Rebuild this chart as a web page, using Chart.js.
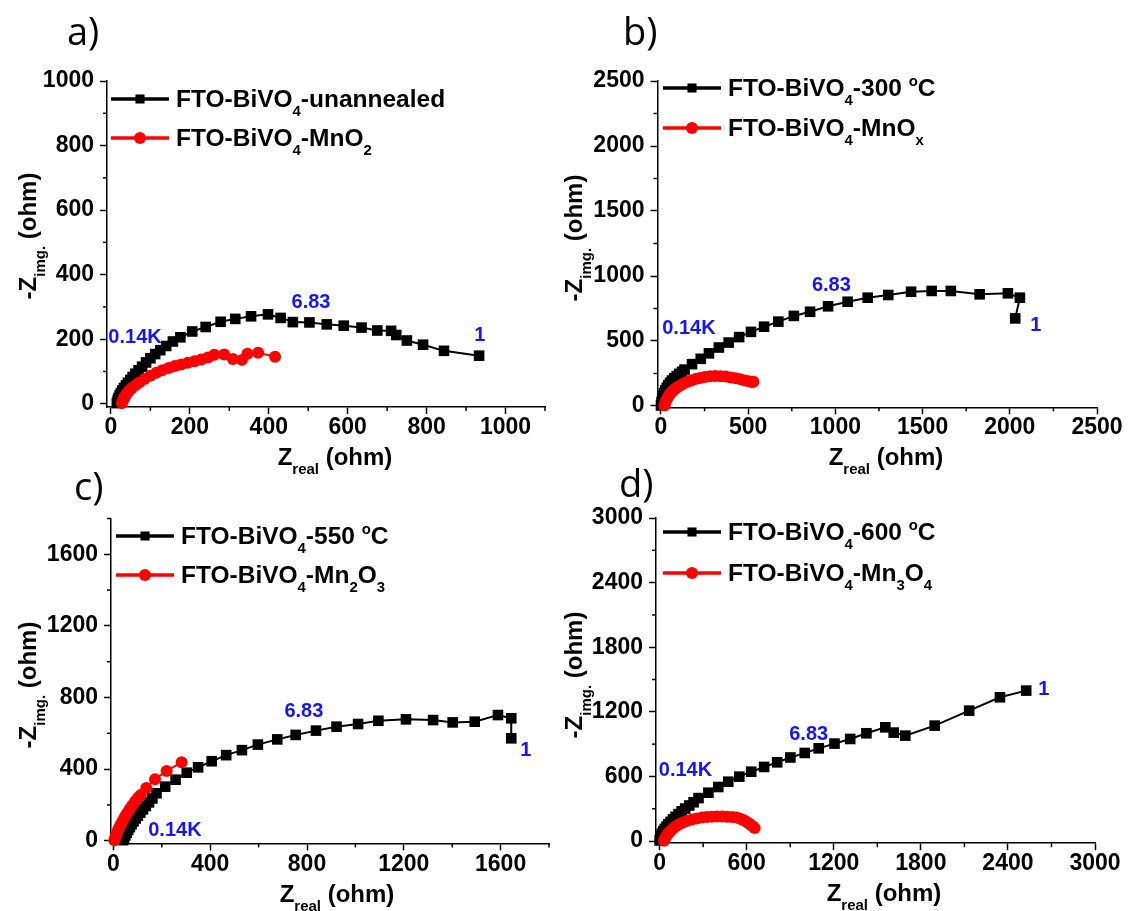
<!DOCTYPE html>
<html>
<head>
<meta charset="utf-8">
<title>EIS Nyquist plots</title>
<script src="https://cdn.jsdelivr.net/npm/chart.js@4.4.1/dist/chart.umd.min.js"></script>
<style>
  html, body { margin: 0; padding: 0; background: #fff; }
  #wrap { position: relative; width: 1129px; height: 911px; }
  #wrap canvas { position: absolute; left: 0; top: 0; }
</style>
</head>
<body>
<div id="wrap">
  <canvas id="chartA" width="1129" height="911"></canvas>
  <canvas id="chartB" width="1129" height="911"></canvas>
  <canvas id="chartC" width="1129" height="911"></canvas>
  <canvas id="chartD" width="1129" height="911"></canvas>
</div>
<script>
// Z_real / -Z_img pairs (ohm), high frequency first

// a) unannealed vs MnO2
const unannealedPts = [[15,2],[17,10],[19,18],[22,26],[25,33],[29,41],[33,49],[38,57],[43,65],[49,74],[55,83],[62,93],[70,104],[79,115],[89,128],[100,141],[112,154],[125,166],[140,179],[157,193],[176,206],[206,224],[240,238],[278,254],[315,263],[355,271],[398,277],[430,266],[461,253],[503,252],[547,246],[590,242],[635,236],[675,227],[710,226],[723,213],[750,196],[791,183],[844,164],[933,149]];
const mno2Pts = [[28,2],[30,9],[33,16],[36,23],[41,32],[46,40],[53,49],[62,57],[72,66],[85,77],[100,87],[115,96],[130,104],[146,111],[162,117],[178,122],[195,127],[212,132],[229,137],[246,143],[262,152],[287,153],[309,139],[332,136],[346,155],[373,158],[416,146]];

// b) 300 C vs MnOx
const t300Pts = [[0,4],[3,30],[7,55],[12,78],[18,100],[25,120],[33,140],[42,160],[52,178],[63,196],[76,214],[90,230],[105,247],[121,263],[135,280],[178,322],[228,363],[275,405],[332,450],[388,488],[448,530],[516,570],[591,610],[673,649],[762,693],[855,725],[958,767],[1070,802],[1185,833],[1303,854],[1434,879],[1552,885],[1662,885],[1827,859],[1989,867],[2058,833],[2031,674]];
const mnoxPts = [[20,3],[24,20],[29,38],[35,55],[42,72],[50,89],[60,105],[71,120],[84,135],[98,148],[114,161],[132,174],[152,186],[174,197],[198,207],[224,216],[252,223],[282,228],[312,230],[342,229],[372,226],[400,220],[428,213],[455,205],[480,197],[502,190],[520,184],[530,186]];

// c) 550 C vs Mn2O3
const t550Pts = [[40,3],[44,16],[49,30],[55,45],[61,60],[68,76],[75,92],[83,108],[92,124],[101,140],[111,157],[122,175],[134,194],[147,214],[161,236],[178,265],[214,302],[257,341],[303,380],[350,410],[406,444],[466,478],[531,506],[597,537],[677,566],[753,591],[837,615],[922,637],[1011,652],[1095,670],[1209,678],[1321,674],[1402,661],[1493,665],[1589,702],[1644,684],[1644,572]];
const mn2o3Pts = [[4,3],[7,15],[11,30],[15,45],[20,62],[26,80],[33,98],[40,116],[48,135],[57,155],[67,176],[78,198],[90,220],[102,240],[113,256],[136,295],[172,343],[220,390],[282,438]];

// d) 600 C vs Mn3O4
const t600Pts = [[0,5],[4,25],[9,45],[16,68],[25,90],[35,112],[47,134],[60,156],[75,178],[92,201],[110,225],[130,250],[152,276],[176,302],[204,330],[234,360],[268,399],[336,449],[404,502],[473,551],[549,598],[631,644],[720,688],[810,731],[901,776],[1000,818],[1096,861],[1205,905],[1313,948],[1425,1001],[1555,1056],[1613,1007],[1693,979],[1895,1072],[2133,1211],[2345,1335],[2526,1397]];
const mn3o4Pts = [[30,3],[36,20],[44,40],[54,60],[66,80],[80,100],[96,120],[115,140],[138,158],[163,174],[192,188],[222,200],[255,210],[290,218],[325,223],[360,226],[395,227],[430,227],[465,226],[500,223],[530,218],[555,208],[578,195],[598,180],[615,163],[630,148],[645,133],[655,120]];

// tick labels
const ticksA = [0, 200, 400, 600, 800, 1000];
const ticksB = [0, 500, 1000, 1500, 2000, 2500];
const ticksC = [0, 400, 800, 1200, 1600];
const ticksD = [0, 600, 1200, 1800, 2400, 3000];

// frequency markers written next to the curves
const freqLabels = ['0.14K', '6.83', '1'];

const W = 1129, H = 911;
const FONT = "'Liberation Sans', Arial, sans-serif";

const panels = [
  { id: 'chartA', letter: 'a)', letterAt: [67, 45],
    area: { left: 107, right: 545, top: 81, bottom: 407 },
    x: { min: -10, max: 1100, ticks: ticksA }, y: { min: -10, max: 1000, ticks: ticksA },
    names: ['FTO-BiVO_4-unannealed', 'FTO-BiVO_4-MnO_2'], series: [unannealedPts, mno2Pts],
    legend: { x: 111, rows: [99, 138] },
    yTitle: [36, 236], xTitle: [335, 465],
    freqAt: [[61, 210], [507, 319], [935, 217]] },
  { id: 'chartB', letter: 'b)', letterAt: [623, 45],
    area: { left: 657.5, right: 1097, top: 81, bottom: 407.3 },
    x: { min: -20, max: 2500, ticks: ticksB }, y: { min: -10, max: 2500, ticks: ticksB },
    names: ['FTO-BiVO_4-300 ^oC', 'FTO-BiVO_4-MnO_x'], series: [t300Pts, mnoxPts],
    legend: { x: 663, rows: [88, 128] },
    yTitle: [582, 238], xTitle: [886, 465],
    freqAt: [[160, 608], [977, 938], [2149, 631]] },
  { id: 'chartC', letter: 'c)', letterAt: [74, 500],
    area: { left: 111, right: 549, top: 518.5, bottom: 843.4 },
    x: { min: -10, max: 1800, ticks: ticksC }, y: { min: -15, max: 1800, ticks: ticksC },
    names: ['FTO-BiVO_4-550 ^oC', 'FTO-BiVO_4-Mn_2O_3'], series: [t550Pts, mn2o3Pts],
    legend: { x: 116, rows: [536, 575] },
    yTitle: [36, 685], xTitle: [337, 902],
    freqAt: [[254, 65], [787, 730], [1704, 515]] },
  { id: 'chartD', letter: 'd)', letterAt: [619, 497],
    area: { left: 656, right: 1095, top: 518, bottom: 843.2 },
    x: { min: -25, max: 3000, ticks: ticksD }, y: { min: -20, max: 3000, ticks: ticksD },
    names: ['FTO-BiVO_4-600 ^oC', 'FTO-BiVO_4-Mn_3O_4'], series: [t600Pts, mn3o4Pts],
    legend: { x: 663, rows: [532, 573] },
    yTitle: [582, 675], xTitle: [884, 901],
    freqAt: [[178, 669], [1027, 1008], [2648, 1417]] }
];

const seriesStyle = [
  { color: '#000000', pointStyle: 'rect', radius: 7.5, legendRadius: 6.4 },
  { color: '#ff0000', pointStyle: 'circle', radius: 6, legendRadius: 6 }
];

// "_x" or "_{..}" = subscript, "^x" = superscript
function parseRich(str) {
  const parts = [];
  const re = /([_^])\{([^}]*)\}|([_^])(.)|([^_^]+)/g;
  let m;
  while ((m = re.exec(str))) {
    if (m[1]) parts.push({ t: m[2], k: m[1] });
    else if (m[3]) parts.push({ t: m[4], k: m[3] });
    else parts.push({ t: m[5], k: '' });
  }
  return parts;
}

function drawRich(ctx, str, x, y, fs, align, sx) {
  const parts = parseRich(str);
  const fontFor = k => 'bold ' + (k ? Math.round(fs * 0.63) : fs) + 'px ' + FONT;
  let w = 0;
  parts.forEach(p => { ctx.font = fontFor(p.k); p.w = ctx.measureText(p.t).width; w += p.w; });
  ctx.save();
  ctx.translate(x, y);
  ctx.scale(sx || 1, 1);
  ctx.textAlign = 'left';
  ctx.textBaseline = 'alphabetic';
  let cx = align === 'center' ? -w / 2 : 0;
  parts.forEach(p => {
    ctx.font = fontFor(p.k);
    const dy = p.k === '_' ? fs * 0.37 : (p.k === '^' ? -fs * 0.45 : 0);
    ctx.fillText(p.t, cx, dy);
    cx += p.w;
  });
  ctx.restore();
}

function minorValues(ax) {
  const step = (ax.ticks[1] - ax.ticks[0]) / 2;
  const out = [];
  for (let v = ax.ticks[0] + step; v <= ax.max + 1e-9; v += 2 * step) out.push(v);
  return out;
}

function drawMarker(ctx, style, x, y) {
  ctx.fillStyle = style.color;
  if (style.pointStyle === 'rect') {
    const h = style.legendRadius * Math.SQRT1_2;
    ctx.fillRect(x - h, y - h, 2 * h, 2 * h);
  } else {
    ctx.beginPath();
    ctx.arc(x, y, style.legendRadius, 0, Math.PI * 2);
    ctx.fill();
  }
}

function decorPlugin(p) {
  return {
    id: 'decor',
    afterDraw(chart) {
      const ctx = chart.ctx;
      const xs = chart.scales.x, ys = chart.scales.y;
      ctx.save();

      // minor ticks
      ctx.strokeStyle = '#000';
      ctx.lineWidth = 1.5;
      minorValues(p.x).forEach(v => {
        const px = xs.getPixelForValue(v);
        ctx.beginPath(); ctx.moveTo(px, xs.top); ctx.lineTo(px, xs.top + 4); ctx.stroke();
      });
      minorValues(p.y).forEach(v => {
        const py = ys.getPixelForValue(v);
        ctx.beginPath(); ctx.moveTo(ys.right, py); ctx.lineTo(ys.right - 4, py); ctx.stroke();
      });

      // axis titles
      ctx.fillStyle = '#000';
      drawRich(ctx, 'Z_{real} (ohm)', p.xTitle[0], p.xTitle[1], 24, 'center');
      ctx.save();
      ctx.translate(p.yTitle[0], p.yTitle[1]);
      ctx.rotate(-Math.PI / 2);
      drawRich(ctx, '-Z_{img.} (ohm)', 0, 0, 24, 'center');
      ctx.restore();

      // legend
      p.names.forEach((name, i) => {
        const st = seriesStyle[i];
        const y = p.legend.rows[i];
        const x0 = p.legend.x;
        ctx.strokeStyle = st.color;
        ctx.lineWidth = 3.5;
        ctx.beginPath(); ctx.moveTo(x0, y); ctx.lineTo(x0 + 58, y); ctx.stroke();
        drawMarker(ctx, st, x0 + 29, y);
        ctx.fillStyle = '#000';
        drawRich(ctx, name, x0 + 65, y + 8.2, 23, 'left', 1.065);
      });

      // frequency labels
      ctx.fillStyle = '#1414ff';
      ctx.font = 'bold 20px ' + FONT;
      ctx.textAlign = 'center';
      ctx.textBaseline = 'alphabetic';
      freqLabels.forEach((txt, i) => {
        const [vx, vy] = p.freqAt[i];
        ctx.fillText(txt, xs.getPixelForValue(vx), ys.getPixelForValue(vy) + 7);
      });

      // panel letter
      ctx.fillStyle = '#000';
      ctx.font = "38px 'Open Sans', Lato, sans-serif";
      ctx.textAlign = 'left';
      ctx.fillText(p.letter, p.letterAt[0], p.letterAt[1]);
      ctx.restore();
    }
  };
}

function axisOptions(ax, isX) {
  return {
    type: 'linear',
    min: ax.min,
    max: ax.max,
    afterFit: s => { if (isX) s.height = 50; else s.width = 80; },
    afterBuildTicks: s => { s.ticks = ax.ticks.map(v => ({ value: v })); },
    ticks: {
      color: '#000',
      font: { family: FONT, size: 23, weight: 'bold' },
      padding: isX ? 0 : 6,
      autoSkip: false,
      maxRotation: 0,
      callback: v => String(v)
    },
    grid: { drawOnChartArea: false, drawTicks: true, tickLength: 7, tickColor: '#000', tickWidth: 1.5 },
    border: { display: true, color: '#000', width: 1.5 }
  };
}

function makePanel(p) {
  const datasets = p.series.map((pts, i) => ({
    label: p.names[i].replace(/[_^]/g, ''),
    data: pts.map(([x, y]) => ({ x, y })),
    showLine: true,
    borderColor: seriesStyle[i].color,
    backgroundColor: seriesStyle[i].color,
    borderWidth: 2,
    pointStyle: seriesStyle[i].pointStyle,
    pointRadius: seriesStyle[i].radius,
    pointBorderWidth: 0,
    clip: false,
    order: 1 - i
  }));

  new Chart(document.getElementById(p.id), {
    type: 'scatter',
    data: { datasets },
    options: {
      responsive: false,
      animation: false,
      events: [],
      layout: {
        padding: {
          left: p.area.left - 80,
          right: W - p.area.right,
          top: p.area.top,
          bottom: H - p.area.bottom - 50
        }
      },
      plugins: { legend: { display: false }, tooltip: { enabled: false } },
      scales: { x: axisOptions(p.x, true), y: axisOptions(p.y, false) }
    },
    plugins: [decorPlugin(p)]
  });
}

panels.forEach(makePanel);
</script>
</body>
</html>
